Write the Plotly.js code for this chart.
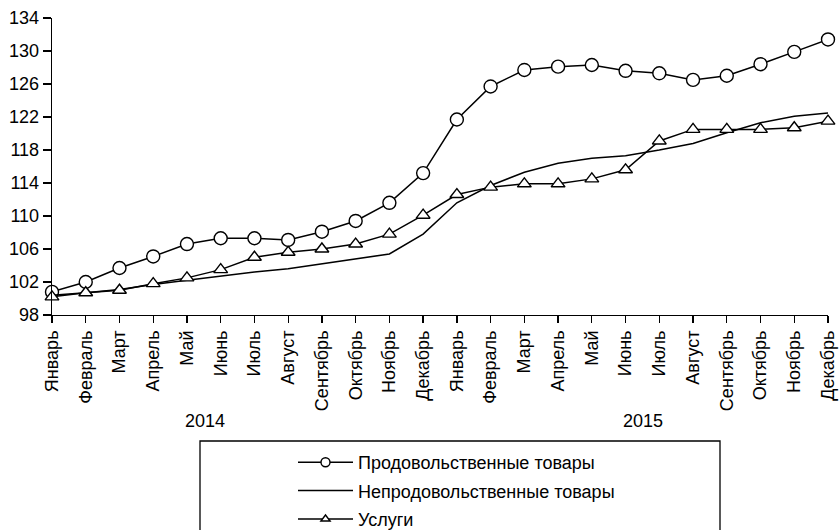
<!DOCTYPE html>
<html>
<head>
<meta charset="utf-8">
<script src="https://cdn.plot.ly/plotly-3.0.1.min.js"></script>
<style>
  html, body { margin: 0; padding: 0; background: #fff; }
  #chart { width: 839px; height: 530px; }
</style>
</head>
<body>
<div id="chart"></div>
<script>
const months = [
  "Январь", "Февраль", "Март", "Апрель", "Май", "Июнь", "Июль", "Август",
  "Сентябрь", "Октябрь", "Ноябрь", "Декабрь",
  "Январь", "Февраль", "Март", "Апрель", "Май", "Июнь", "Июль", "Август",
  "Сентябрь", "Октябрь", "Ноябрь", "Декабрь"
];
const years = ["2014", "2015"];
const seriesNames = ["Продовольственные товары", "Непродовольственные товары", "Услуги"];

const food = [100.8, 102.0, 103.7, 105.1, 106.6, 107.3, 107.3, 107.1, 108.1, 109.4, 111.6, 115.2,
              121.7, 125.7, 127.7, 128.1, 128.3, 127.6, 127.3, 126.5, 127.0, 128.4, 129.9, 131.4];
const nonFood = [100.4, 100.7, 101.1, 101.7, 102.2, 102.7, 103.2, 103.6, 104.2, 104.8, 105.4, 107.8,
                 111.6, 113.7, 115.3, 116.4, 117.0, 117.3, 118.0, 118.8, 120.1, 121.3, 122.1, 122.5];
const services = [100.2, 100.7, 101.0, 101.8, 102.5, 103.5, 105.0, 105.6, 106.0, 106.6, 107.8, 110.1,
                  112.6, 113.5, 113.9, 113.9, 114.5, 115.6, 119.1, 120.5, 120.5, 120.5, 120.7, 121.5];

const xIdx = months.map((_, i) => i);
const FONT = "Liberation Sans, Arial, sans-serif";
const FS = 18;

const lineStyle = { color: "#000", width: 1.5 };
const circleMarker = (s) => ({ symbol: "circle", size: s, color: "#fff", line: { color: "#000", width: 1.4 } });
const triMarker = (s) => ({ symbol: "triangle-up", size: s, color: "#fff", line: { color: "#000", width: 1.4 } });

const traces = [
  { x: xIdx, y: food, name: seriesNames[0], type: "scatter", mode: "lines+markers",
    line: lineStyle, marker: circleMarker(13), cliponaxis: false, showlegend: false },
  { x: xIdx, y: nonFood, name: seriesNames[1], type: "scatter", mode: "lines",
    line: lineStyle, cliponaxis: false, showlegend: false },
  { x: xIdx, y: services, name: seriesNames[2], type: "scatter", mode: "lines+markers",
    line: lineStyle, marker: triMarker(12), cliponaxis: false, showlegend: false },
  // legend entries (smaller symbols, as in the reference legend)
  { x: [null], y: [null], name: seriesNames[0], type: "scatter", mode: "lines+markers",
    line: lineStyle, marker: circleMarker(9), legendgroup: "a" },
  { x: [null], y: [null], name: seriesNames[1], type: "scatter", mode: "lines",
    line: lineStyle, legendgroup: "b" },
  { x: [null], y: [null], name: seriesNames[2], type: "scatter", mode: "lines+markers",
    line: lineStyle, marker: triMarker(8), legendgroup: "c" }
];

const layout = {
  width: 839, height: 530,
  margin: { l: 52, r: 11, t: 18, b: 215, autoexpand: false },
  paper_bgcolor: "#fff", plot_bgcolor: "#fff",
  font: { family: FONT, size: FS, color: "#000" },
  xaxis: {
    range: [0, 23], tickmode: "array", tickvals: xIdx, ticktext: months,
    tickangle: -90, showgrid: false, zeroline: false, automargin: false,
    showline: true, linecolor: "#000", linewidth: 1.3,
    ticks: "outside", ticklen: 7, tickwidth: 1.3, tickcolor: "#000",
    tickfont: { family: FONT, size: FS, color: "#000" }, fixedrange: true
  },
  yaxis: {
    range: [98, 134], dtick: 4, tick0: 98, showgrid: false, zeroline: false, automargin: false,
    showline: true, linecolor: "#000", linewidth: 1.3,
    ticks: "outside", ticklen: 8, tickwidth: 1.3, tickcolor: "#000",
    tickfont: { family: FONT, size: FS, color: "#000" }, fixedrange: true
  },
  showlegend: true,
  legend: {
    xref: "container", yref: "container",
    x: 293 / 839, y: 1 - 444 / 530, xanchor: "left", yanchor: "top",
    orientation: "v", traceorder: "grouped", tracegroupgap: 2,
    itemwidth: 55, bgcolor: "rgba(0,0,0,0)", borderwidth: 0,
    font: { family: FONT, size: FS, color: "#000" }
  },
  shapes: [
    {
      type: "rect", xref: "paper", yref: "paper",
      x0: (200 - 52) / 776, x1: (720 - 52) / 776,
      y0: -(441 - 315) / 297, y1: -(540 - 315) / 297,
      line: { color: "#000", width: 1.3 }, fillcolor: "rgba(0,0,0,0)"
    }
  ],
  annotations: [
    { text: years[0], xref: "paper", yref: "paper", x: (205 - 52) / 776, y: -(421 - 315) / 297,
      xanchor: "center", yanchor: "middle", showarrow: false, font: { family: FONT, size: FS, color: "#000" } },
    { text: years[1], xref: "paper", yref: "paper", x: (643 - 52) / 776, y: -(421 - 315) / 297,
      xanchor: "center", yanchor: "middle", showarrow: false, font: { family: FONT, size: FS, color: "#000" } }
  ]
};

Plotly.newPlot("chart", traces, layout, { staticPlot: true, displayModeBar: false });
</script>
</body>
</html>
